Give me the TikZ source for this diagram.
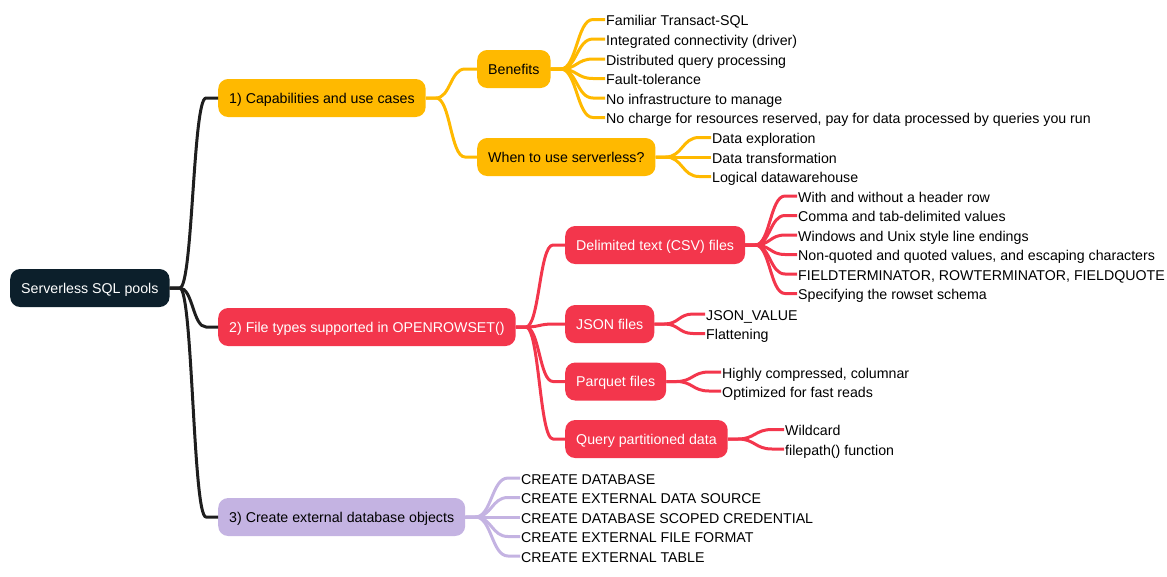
\documentclass[tikz,border=0pt]{standalone}
\usepackage{fontspec}
\setmainfont{Liberation Sans}
\usetikzlibrary{calc}
\definecolor{cRoot}{HTML}{0C1F2B}
\definecolor{cYel}{HTML}{FFB900}
\definecolor{cRed}{HTML}{F3364C}
\definecolor{cPur}{HTML}{C4B3E2}
\definecolor{cBlk}{HTML}{1E1E1E}
\newcommand\mmlink[3]{%
  \path (#2.east) ++(10,0) coordinate (lkA);
  \path (#3.west) ++(-12,0) coordinate (lkB);
  \path ($(lkA)!0.5!(lkB)$) coordinate (lkM);
  \draw[link,#1] (#2.east) -- (lkA) .. controls (lkM |- lkA) and (lkM |- lkB) .. (lkB) -- (#3.west);}
\tikzset{
  mmbox/.style={rounded corners=10pt, minimum height=38pt, inner xsep=11pt, inner ysep=0pt,
    text height=12pt, text depth=2pt, anchor=west},
  leaf/.style={anchor=west, inner xsep=1pt, inner ysep=0pt, text height=12.5pt, text depth=0pt, text=black},
  link/.style={line width=3pt, line join=round},
  yl/.style={mmbox, fill=cYel, text=black},
  rd/.style={mmbox, fill=cRed, text=white},
  pu/.style={mmbox, fill=cPur, text=black}
}
\begin{document}
\begin{tikzpicture}[x=1pt,y=-1pt,font=\fontsize{14.2}{16}\selectfont]
\useasboundingbox (0,0) rectangle (1167,576);
% main nodes
\node[mmbox, fill=cRoot, text=white] (root) at (10,288) {Serverless SQL pools};
\node[yl] (c1) at (218,98) {1) Capabilities and use cases};
\node[rd] (c2) at (218,327) {2) File types supported in OPENROWSET()};
\node[pu] (c3) at (218,517) {3) Create external database objects};
\node[yl] (ben) at (477,69) {Benefits};
\node[yl] (when) at (477,157) {When to use serverless?};
\node[rd] (csv) at (565,245) {Delimited text (CSV) files};
\node[rd] (json) at (565,324) {JSON files};
\node[rd] (parq) at (565,381.5) {Parquet files};
\node[rd] (qpd) at (565,439) {Query partitioned data};
% leaves: benefits
\node[leaf] (b1) at (605,19.5) {Familiar Transact-SQL};
\node[leaf] (b2) at (605,39) {Integrated connectivity (driver)};
\node[leaf] (b3) at (605,59) {Distributed query processing};
\node[leaf] (b4) at (605,78.5) {Fault-tolerance};
\node[leaf] (b5) at (605,98) {No infrastructure to manage};
\node[leaf] (b6) at (605,117.5) {No charge for resources reserved, pay for data processed by queries you run};
% leaves: when
\node[leaf] (w1) at (711,137.5) {Data exploration};
\node[leaf] (w2) at (711,157) {Data transformation};
\node[leaf] (w3) at (711,176.5) {Logical datawarehouse};
% leaves: csv
\node[leaf] (s1) at (797,196) {With and without a header row};
\node[leaf] (s2) at (797,215.5) {Comma and tab-delimited values};
\node[leaf] (s3) at (797,235) {Windows and Unix style line endings};
\node[leaf] (s4) at (797,254.5) {Non-quoted and quoted values, and escaping characters};
\node[leaf] (s5) at (797,274) {FIELDTERMINATOR, ROWTERMINATOR, FIELDQUOTE};
\node[leaf] (s6) at (797,293.5) {Specifying the rowset schema};
% leaves: json
\node[leaf] (j1) at (705,314) {JSON\_VALUE};
\node[leaf] (j2) at (705,333.5) {Flattening};
% leaves: parquet
\node[leaf] (p1) at (721,372) {Highly compressed, columnar};
\node[leaf] (p2) at (721,391) {Optimized for fast reads};
% leaves: query
\node[leaf] (q1) at (784,429.5) {Wildcard};
\node[leaf] (q2) at (784,449) {filepath() function};
% leaves: external objects
\node[leaf] (e1) at (520,478) {CREATE DATABASE};
\node[leaf] (e2) at (520,497.5) {CREATE EXTERNAL DATA SOURCE};
\node[leaf] (e3) at (520,517) {CREATE DATABASE SCOPED CREDENTIAL};
\node[leaf] (e4) at (520,536.5) {CREATE EXTERNAL FILE FORMAT};
\node[leaf] (e5) at (520,556) {CREATE EXTERNAL TABLE};
% connectors
\foreach \c in {c1,c2,c3} {\mmlink{cBlk}{root}{\c}}
\foreach \c in {ben,when} {\mmlink{cYel}{c1}{\c}}
\foreach \c in {b1,b2,b3,b4,b5,b6} {\mmlink{cYel}{ben}{\c}}
\foreach \c in {w1,w2,w3} {\mmlink{cYel}{when}{\c}}
\foreach \c in {csv,json,parq,qpd} {\mmlink{cRed}{c2}{\c}}
\foreach \c in {s1,s2,s3,s4,s5,s6} {\mmlink{cRed}{csv}{\c}}
\foreach \c in {j1,j2} {\mmlink{cRed}{json}{\c}}
\foreach \c in {p1,p2} {\mmlink{cRed}{parq}{\c}}
\foreach \c in {q1,q2} {\mmlink{cRed}{qpd}{\c}}
\foreach \c in {e1,e2,e3,e4,e5} {\mmlink{cPur}{c3}{\c}}
\end{tikzpicture}
\end{document}
